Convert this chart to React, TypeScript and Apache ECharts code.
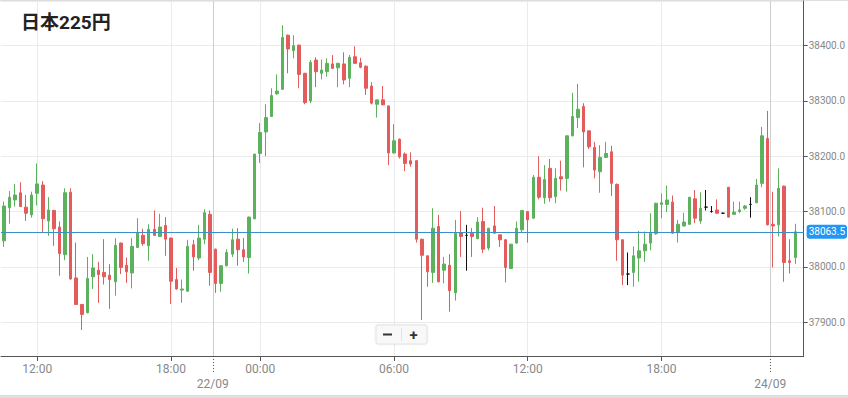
import React, { useEffect, useRef } from "react";
import * as echarts from "echarts";

// OHLC of 15-minute candles
const opens = [
  38047, 38107, 38121, 38134, 38108, 38094, 38133, 38148, 38083, 38102,
  38072, 38022, 38135, 37980, 37932, 37917, 37982, 37994, 37990, 37985,
  37973, 38043, 38003, 37989, 38035, 38057, 38038, 38068, 38055, 38075,
  38052, 37977, 37958, 37956, 38040, 38016, 38050, 38095, 38032, 37970,
  38002, 38023, 38050, 38031, 38017, 38087, 38205, 38244, 38272, 38313,
  38321, 38419, 38391, 38401, 38350, 38300, 38374, 38350, 38353, 38367,
  38360, 38367, 38341, 38380, 38369, 38363, 38327, 38294, 38302, 38291,
  38206, 38231, 38204, 38192, 38192, 38050, 38020, 37990, 38073, 37994,
  38003, 37953, 38062, 38057, 38061, 38051, 38082, 38034, 38074, 38058,
  38049, 37997, 38043, 38067, 38100, 38088, 38162, 38125, 38178, 38127,
  38163, 38160, 38237, 38270, 38290, 38246, 38216, 38172, 38198, 38208,
  38149, 38049, 37987, 37990, 38016, 38029, 38043, 38060, 38113, 38113,
  38117, 38062, 38074, 38077, 38123, 38083, 38108, 38100, 38103, 38097,
  38144, 38095, 38100, 38106, 38113, 38116, 38151, 38232, 38077, 38076,
  38146, 38011, 38017,
];
const closes = [
  38110, 38126, 38130, 38109, 38097, 38130, 38150, 38087, 38103, 38069,
  38024, 38134, 37978, 37932, 37914, 37979, 37998, 37986, 37982, 37977,
  38039, 37999, 37991, 38037, 38061, 38042, 38068, 38057, 38072, 38050,
  37974, 37960, 37960, 38037, 38018, 38052, 38098, 37990, 37970, 38002,
  38026, 38049, 38031, 38018, 38090, 38204, 38243, 38270, 38310, 38318,
  38415, 38394, 38400, 38348, 38297, 38370, 38353, 38356, 38368, 38359,
  38368, 38338, 38379, 38368, 38361, 38323, 38296, 38302, 38293, 38206,
  38228, 38199, 38187, 38186, 38050, 38021, 37991, 38070, 37973, 38005,
  37957, 38061, 38055, 38057, 38055, 38081, 38032, 38070, 38061, 38049,
  37999, 38041, 38070, 38102, 38085, 38162, 38126, 38158, 38125, 38160,
  38159, 38237, 38272, 38285, 38244, 38217, 38175, 38198, 38205, 38151,
  38049, 37985, 37987, 38020, 38029, 38041, 38061, 38115, 38116, 38121,
  38061, 38077, 38081, 38126, 38088, 38106, 38108, 38100, 38097, 38097,
  38090, 38099, 38103, 38110, 38113, 38148, 38237, 38076, 38074, 38142,
  38008, 38008, 38063.5,
];
const lows = [
  38036, 38078, 38109, 38109, 38083, 38089, 38111, 38063, 38056, 38038,
  37984, 38012, 37977, 37931, 37886, 37916, 37960, 37935, 37968, 37924,
  37948, 37987, 37971, 37961, 38034, 38038, 38011, 38056, 38054, 38020,
  37933, 37959, 37935, 37955, 37993, 38012, 38041, 37966, 37953, 37955,
  38001, 38018, 38002, 38009, 37988, 38086, 38188, 38200, 38271, 38311,
  38320, 38350, 38377, 38323, 38294, 38296, 38325, 38339, 38344, 38358,
  38325, 38330, 38325, 38367, 38359, 38311, 38294, 38270, 38292, 38184,
  38205, 38196, 38173, 38181, 38044, 37904, 37964, 37971, 37972, 37970,
  37919, 37939, 38018, 37993, 38018, 38050, 38025, 38030, 38060, 38036,
  37972, 37996, 38042, 38063, 38044, 38087, 38122, 38114, 38118, 38115,
  38138, 38136, 38236, 38251, 38180, 38213, 38160, 38134, 38197, 38128,
  38011, 37967, 37967, 37964, 37973, 38009, 38030, 38058, 38088, 38099,
  38060, 38044, 38073, 38076, 38079, 38078, 38102, 38098, 38096, 38096,
  38089, 38094, 38097, 38103, 38089, 38115, 38144, 38075, 37999, 38055,
  37973, 37988, 38005,
];
const highs = [
  38118, 38137, 38150, 38153, 38130, 38136, 38187, 38155, 38126, 38103,
  38082, 38142, 38142, 38044, 37933, 38018, 38023, 38009, 38050, 38005,
  38052, 38044, 38017, 38052, 38088, 38069, 38077, 38102, 38096, 38090,
  38053, 37998, 37977, 38049, 38049, 38076, 38104, 38102, 38033, 38003,
  38032, 38069, 38070, 38052, 38091, 38204, 38260, 38294, 38323, 38348,
  38437, 38420, 38419, 38402, 38351, 38374, 38379, 38375, 38377, 38383,
  38369, 38388, 38383, 38399, 38378, 38364, 38334, 38302, 38327, 38292,
  38258, 38232, 38207, 38207, 38193, 38051, 38020, 38106, 38094, 38018,
  38023, 38085, 38101, 38076, 38070, 38090, 38107, 38070, 38110, 38058,
  38050, 38042, 38082, 38102, 38100, 38166, 38200, 38184, 38195, 38178,
  38192, 38237, 38315, 38331, 38296, 38246, 38226, 38220, 38226, 38219,
  38151, 38049, 38026, 38037, 38065, 38064, 38097, 38116, 38133, 38147,
  38129, 38085, 38098, 38126, 38139, 38135, 38139, 38110, 38122, 38098,
  38144, 38118, 38118, 38112, 38126, 38159, 38253, 38282, 38136, 38178,
  38147, 38050, 38078,
];

// axis: 144 slots (last one left empty)
const slotCount = 144;
const timeTickIdx = [6, 30, 46, 70, 94, 118];
const timeTickText = ["12:00", "18:00", "00:00", "06:00", "12:00", "18:00"];
const dateTickPos = [37.5, 137.5];
const dateTickText = ["22/09", "24/09"];
const lastPrice = 38063.5;

const UP = "#5cb25c";
const DOWN = "#e35b5b";

export default function App() {
  const ref = useRef<HTMLDivElement>(null);
  useEffect(() => {
    if (!ref.current) return;
    const chart = echarts.init(ref.current, undefined, { renderer: "svg" });
    const categories = Array.from({ length: slotCount }, (_, i) => String(i));
    const candles = opens.map((o, i) => {
      const v = [o, closes[i], lows[i], highs[i]];
      if (o === closes[i]) {
        return {
          value: v,
          itemStyle: { color: "#111", color0: "#111", borderColor: "#111", borderColor0: "#111" },
        };
      }
      return { value: v };
    });
    const font = "Roboto, 'Noto Sans', sans-serif";
    chart.setOption({
      animation: false,
      backgroundColor: "#fff",
      title: {
        text: "日本225円",
        left: 21,
        top: 13,
        padding: 0,
        textStyle: {
          fontSize: 19,
          fontWeight: "bold",
          color: "#222",
          fontFamily: "Roboto, 'Noto Sans CJK JP', sans-serif",
        },
      },
      grid: { left: 1, right: 43, top: 1, bottom: 42, containLabel: false },
      xAxis: [
        {
          type: "category",
          data: categories,
          boundaryGap: true,
          axisLine: { show: true, onZero: false, lineStyle: { color: "#555", width: 1 } },
          axisTick: {
            show: true,
            alignWithLabel: true,
            length: 5,
            interval: (i: number) => timeTickIdx.includes(i),
            lineStyle: { color: "#555" },
          },
          axisLabel: {
            interval: (i: number) => timeTickIdx.includes(i),
            formatter: (_v: string, i: number) => {
              const k = timeTickIdx.indexOf(i);
              return k >= 0 ? timeTickText[k] : "";
            },
            color: "#888",
            fontSize: 12,
            fontFamily: font,
            margin: 7,
          },
          splitLine: { show: false },
        },
        {
          type: "value",
          min: -0.5,
          max: slotCount - 0.5,
          position: "bottom",
          axisLine: { show: false, onZero: false },
          splitLine: { show: false },
          axisTick: {
            show: true,
            customValues: dateTickPos,
            length: 18,
            lineStyle: { color: "#555", type: [1, 2] },
          },
          axisLabel: {
            customValues: dateTickPos,
            formatter: (v: number) => {
              const k = dateTickPos.indexOf(v);
              return k >= 0 ? dateTickText[k] : "";
            },
            color: "#888",
            fontSize: 12,
            fontFamily: font,
            margin: 22,
          },
        },
      ],
      yAxis: {
        type: "value",
        position: "right",
        min: 37838.8,
        max: 38480.8,
        scale: true,
        axisLine: { show: true, onZero: false, lineStyle: { color: "#555" } },
        axisTick: { show: true, length: 4, lineStyle: { color: "#555" } },
        axisLabel: {
          formatter: (v: number) => v.toFixed(1),
          color: "#888",
          fontSize: 10,
          fontFamily: font,
          margin: 5,
          showMinLabel: false,
          showMaxLabel: false,
        },
        splitLine: { show: true, lineStyle: { color: "#ebebeb" } },
      },
      series: [
        {
          type: "line",
          xAxisIndex: 1,
          data: [[0, lastPrice]],
          symbol: "none",
          silent: true,
          lineStyle: { opacity: 0 },
          z: 1,
          markLine: {
            silent: true,
            z: 1,
            symbol: ["none", "none"],
            label: { show: false },
            data: [
              ...timeTickIdx.map((i) => ({ xAxis: i, lineStyle: { color: "#ebebeb", width: 1, type: "solid" } })),
              ...dateTickPos.map((p) => ({ xAxis: p, lineStyle: { color: "#cfcfcf", width: 1, type: "solid" } })),
            ],
          },
        },
        {
          type: "candlestick",
          xAxisIndex: 0,
          data: candles,
          barWidth: 3,
          z: 2,
          itemStyle: {
            color: UP,
            color0: DOWN,
            borderColor: UP,
            borderColor0: DOWN,
            borderWidth: 1,
          },
          markLine: {
            silent: true,
            symbol: ["none", "none"],
            data: [{ yAxis: lastPrice }],
            lineStyle: { color: "#3a8fc8", width: 1, type: "solid" },
            label: {
              show: true,
              position: "end",
              distance: 3,
              formatter: () => lastPrice.toFixed(1),
              backgroundColor: "#2196f3",
              color: "#fff",
              fontSize: 10,
              fontFamily: font,
              padding: [2, 2, 2, 2],
              borderRadius: 3,
            },
          },
        },
      ],
      graphic: [
        { type: "rect", shape: { x: 0, y: 0, width: 848, height: 1 }, style: { fill: "#dedede" }, silent: true },
        { type: "rect", shape: { x: 0, y: 395, width: 848, height: 3 }, style: { fill: "#dedede" }, silent: true },
        {
          type: "rect",
          shape: { x: 376, y: 325, width: 51, height: 19, r: 2 },
          style: { fill: "#f8f8f8", stroke: "#e2e2e2", lineWidth: 1, shadowBlur: 2, shadowColor: "rgba(0,0,0,0.08)" },
          z: 10,
        },
        { type: "line", shape: { x1: 401.5, y1: 328, x2: 401.5, y2: 341 }, style: { stroke: "#e4e4e4", lineWidth: 1 }, z: 11 },
        {
          type: "rect",
          shape: { x: 383, y: 333.5, width: 9, height: 2 },
          style: { fill: "#333" },
          z: 11,
        },
        {
          type: "text",
          x: 413.5,
          y: 334.5,
          style: { text: "+", fill: "#333", font: "bold 15px Roboto, sans-serif", textAlign: "center", textVerticalAlign: "middle" },
          z: 11,
        },
      ],
    });
    return () => chart.dispose();
  }, []);
  return (
    <div
      ref={ref}
      style={{ position: "fixed", left: 0, top: 0, width: 848, height: 398, background: "#fff" }}
    />
  );
}
